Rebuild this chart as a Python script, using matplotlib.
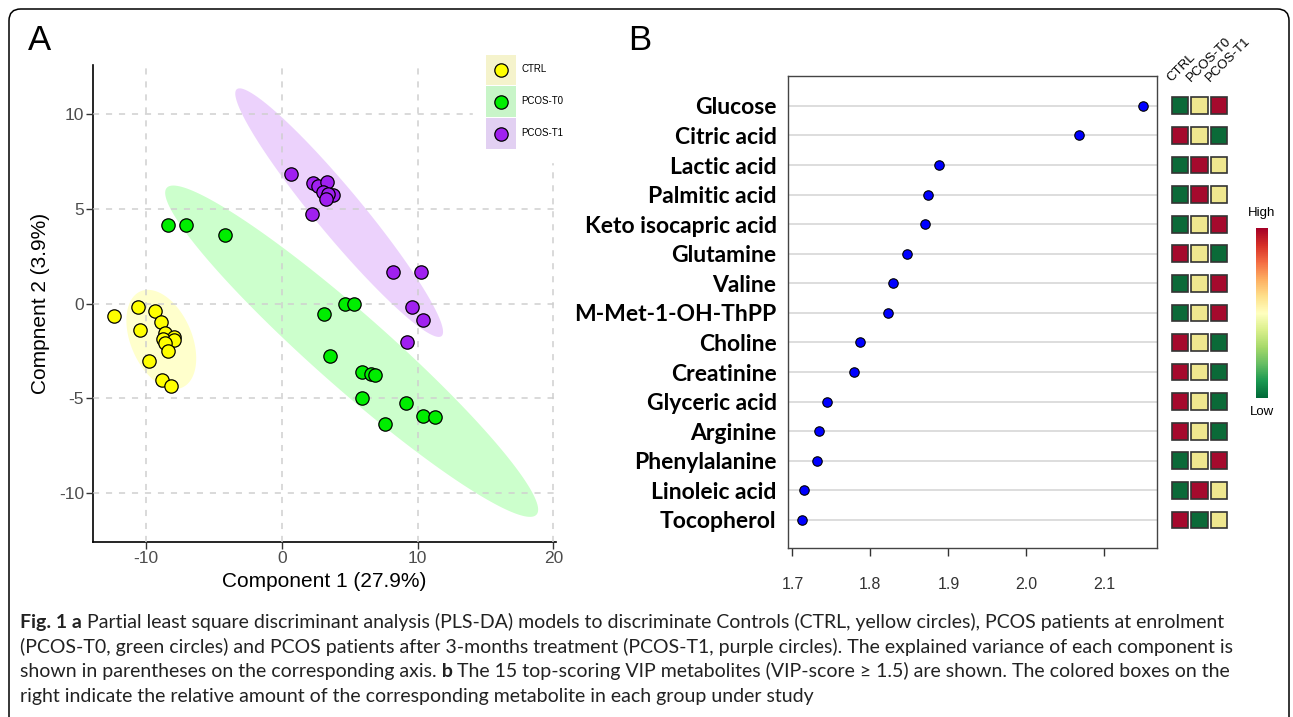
import numpy as np
import matplotlib
matplotlib.use("Agg")
from matplotlib import pyplot as plt
from matplotlib.patches import Rectangle, Patch, FancyBboxPatch
from matplotlib.lines import Line2D
from matplotlib.legend_handler import HandlerLine2D
from matplotlib.colors import ListedColormap, Normalize
from matplotlib.cm import ScalarMappable

plt.rcParams["font.family"] = ["Liberation Sans", "DejaVu Sans"]
plt.rcParams["axes.unicode_minus"] = False

# ---- panel A : PLS-DA scores ----
groups = ["CTRL", "PCOS-T0", "PCOS-T1"]
ctrl_x = [-12.38, -10.62, -9.37, -8.90, -10.47, -8.63, -7.92, -8.75, -7.94, -8.58, -8.38, -9.81, -8.80, -8.16]
ctrl_y = [-0.67, -0.18, -0.41, -0.99, -1.39, -1.55, -1.78, -1.87, -1.92, -2.08, -2.49, -3.05, -4.02, -4.37]
t0_x = [-8.41, -7.06, -4.15, 4.63, 5.34, 3.11, 3.53, 5.88, 6.57, 6.86, 5.88, 9.14, 10.37, 11.30, 7.62]
t0_y = [4.14, 4.14, 3.61, -0.04, 0.00, -0.53, -2.79, -3.60, -3.70, -3.77, -4.97, -5.24, -5.94, -6.01, -6.37]
t1_x = [0.66, 2.33, 2.69, 3.35, 3.06, 3.75, 3.38, 3.26, 2.20, 8.20, 10.24, 9.56, 10.37, 9.19]
t1_y = [6.83, 6.35, 6.21, 6.42, 5.89, 5.71, 5.78, 5.50, 4.74, 1.69, 1.66, -0.16, -0.85, -2.01]

# ellipses: centre, semi-axis vectors (data units)
ell_center = [(-8.87, -1.90), (5.15, -2.52), (4.23, 4.80)]
ell_major = [(-1.54, 2.54), (13.62, -8.63), (7.54, -6.52)]
ell_minor = [(2.06, 0.65), (1.78, 1.46), (1.30, 0.78)]

point_col = ["#ffff00", "#00ee00", "#a020f0"]
key_col = ["#f5f3cc", "#c8f5c8", "#e2d0f2"]

# ---- panel B : VIP scores ----
metabolites = ["Glucose", "Citric acid", "Lactic acid", "Palmitic acid", "Keto isocapric acid",
               "Glutamine", "Valine", "M-Met-1-OH-ThPP", "Choline", "Creatinine",
               "Glyceric acid", "Arginine", "Phenylalanine", "Linoleic acid", "Tocopherol"]
vip = [2.149, 2.067, 1.8885, 1.874, 1.870, 1.847, 1.8295, 1.823, 1.787, 1.779,
       1.7445, 1.734, 1.732, 1.7155, 1.712]
# relative amount per group (CTRL, PCOS-T0, PCOS-T1): 0 low, 1 mid, 2 high
levels = [[0, 1, 2], [2, 1, 0], [0, 2, 1], [0, 2, 1], [0, 1, 2],
          [2, 1, 0], [0, 1, 2], [0, 1, 2], [2, 1, 0], [2, 1, 0],
          [2, 1, 0], [2, 1, 0], [0, 1, 2], [0, 2, 1], [2, 0, 1]]


class CenteredMarker(HandlerLine2D):
    # put the legend marker in the middle of the key box
    def create_artists(self, legend, orig_handle, xdescent, ydescent, width, height, fontsize, trans):
        arts = super().create_artists(legend, orig_handle, xdescent, ydescent,
                                      width, height, fontsize, trans)
        for a in arts:
            a.set_ydata(np.full(len(a.get_xdata()), height / 2 - ydescent))
        return arts


fig = plt.figure(figsize=(12.93, 7.17), dpi=100)
W, H = 1293, 717

# outer rounded frame
fig.patches.append(FancyBboxPatch((9 / W, -0.05), 1280 / W, 1.05 - 9 / H,
                                  boxstyle="round,pad=0,rounding_size=0.009",
                                  mutation_aspect=W / H, transform=fig.transFigure,
                                  fc="none", ec="black", lw=1.1))

# ---------------- panel A ----------------
axA = fig.add_axes([93 / W, 1 - 542 / H, 463 / W, 477 / H])
t = np.linspace(0, 2 * np.pi, 200)
fill_alpha_col = ["#ffff00", "#00ff00", "#a020f0"]
for c, M, m, fc in zip(ell_center, ell_major, ell_minor, fill_alpha_col):
    ex = c[0] + np.cos(t) * M[0] + np.sin(t) * m[0]
    ey = c[1] + np.cos(t) * M[1] + np.sin(t) * m[1]
    axA.fill(ex, ey, color=fc, alpha=0.2, lw=0, zorder=1)

for xs, ys, col in zip([ctrl_x, t0_x, t1_x], [ctrl_y, t0_y, t1_y], point_col):
    axA.plot(xs, ys, "o", ms=9.6, mfc=col, mec="black", mew=0.9, zorder=3)

axA.set_xlim(-13.9, 20.2)
axA.set_ylim(-12.6, 12.6)
axA.set_xticks([-10, 0, 10, 20])
axA.set_yticks([-10, -5, 0, 5, 10])
axA.grid(True, color="#cfcfcf", lw=1.1, linestyle=(0, (4, 4.5)), zorder=2)
axA.set_axisbelow(False)
for s in ["top", "right"]:
    axA.spines[s].set_visible(False)
for s in ["left", "bottom"]:
    axA.spines[s].set_linewidth(1.2)
axA.tick_params(length=5, width=1, color="#333333", labelcolor="#4d4d4d",
                labelsize=12.5, pad=1.5)
axA.set_xlabel("Component 1 (27.9%)", fontsize=15)
axA.set_ylabel("Compnent 2 (3.9%)", fontsize=15)
axA.xaxis.set_label_coords(0.5, -0.062)
axA.yaxis.set_label_coords(-0.093, 0.5)

handles = [(Patch(fc=kc, ec="none"),
            Line2D([], [], ls="", marker="o", ms=9.6, mfc=pc, mec="black", mew=0.9))
           for kc, pc in zip(key_col, point_col)]
leg = axA.legend(handles, groups, loc="upper left", bbox_to_anchor=(468 / W, 1 - 37 / H),
                 bbox_transform=fig.transFigure, fontsize=7, handlelength=3.1,
                 handleheight=4.5, labelspacing=0.12, handletextpad=0.6,
                 borderpad=1.3, frameon=True, fancybox=False, framealpha=1,
                 handler_map={Line2D: CenteredMarker()})
leg.get_frame().set_edgecolor("white")
leg.set_zorder(5)

fig.text(40 / W, 1 - 41 / H, "A", fontsize=25, ha="center", va="center")
fig.text(640 / W, 1 - 41 / H, "B", fontsize=25, ha="center", va="center")

# ---------------- panel B ----------------
n = len(metabolites)
ypos = np.arange(n)[::-1]
axB = fig.add_axes([787.7 / W, 1 - 548.3 / H, 369 / W, 472.6 / H])
for yy in ypos:
    axB.axhline(yy, color="#d3d3d3", lw=1.1, zorder=1)
axB.plot(vip, ypos, "o", ms=6.8, mfc="#0000ff", mec="black", mew=0.8, zorder=3)
axB.set_xlim(1.694, 2.167)
axB.set_ylim(-0.96, 15.02)
axB.set_xticks([1.7, 1.8, 1.9, 2.0, 2.1])
axB.set_xticklabels(["1.7", "1.8", "1.9", "2.0", "2.1"])
axB.set_yticks(ypos)
axB.set_yticklabels(metabolites, fontsize=16.5, fontweight="bold", family=["Lato", "DejaVu Sans"])
axB.tick_params(axis="y", length=0, pad=8)
axB.tick_params(axis="x", length=6, width=1, color="#333333", labelcolor="#333333",
                labelsize=11.5, pad=15)
for s in axB.spines.values():
    s.set_color("#444444")
    s.set_linewidth(1.0)

# heatmap of relative amounts
axH = fig.add_axes([1170.25 / W, 1 - 548.3 / H, 58.5 / W, 472.6 / H])
box_cmap = ListedColormap(["#0b6a38", "#efe78f", "#a50a2d"])
for yy, row in zip(ypos, levels):
    for j, v in enumerate(row):
        axH.add_patch(Rectangle((j - 0.428, yy - 0.283), 0.856, 0.566,
                                fc=box_cmap(v), ec="#333333", lw=1.2))
axH.set_xlim(-0.5, 2.5)
axH.set_ylim(-0.96, 15.02)
axH.axis("off")
for j, g in enumerate(groups):
    axH.text(j - 0.35, 14.75, g, rotation=45, rotation_mode="anchor", ha="left",
             va="bottom", fontsize=9.5)

# colour scale
axC = fig.add_axes([1256 / W, 1 - 398.3 / H, 11.7 / W, 170 / H])
cb = fig.colorbar(ScalarMappable(norm=Normalize(0, 1), cmap="RdYlGn_r"), cax=axC)
cb.outline.set_visible(False)
cb.set_ticks([])
fig.text(1262 / W, 1 - 213 / H, "High", fontsize=9.5, ha="center", va="center")
fig.text(1262 / W, 1 - 412 / H, "Low", fontsize=9.5, ha="center", va="center")

# ---------------- caption ----------------
caption = [
    [("Fig. 1 a", True), (" Partial least square discriminant analysis (PLS-DA) models to discriminate Controls (CTRL, yellow circles), PCOS patients at enrolment", False)],
    [("(PCOS-T0, green circles) and PCOS patients after 3-months treatment (PCOS-T1, purple circles). The explained variance of each component is", False)],
    [("shown in parentheses on the corresponding axis.", False), (" b", True), (" The 15 top-scoring VIP metabolites (VIP-score ≥ 1.5) are shown. The colored boxes on the", False)],
    [("right indicate the relative amount of the corresponding metabolite in each group under study", False)],
]
baselines = [628, 652.7, 677.3, 702]
renderer = fig.canvas.get_renderer()
for line, yb in zip(caption, baselines):
    x = 20 / W
    for txt, bold in line:
        tx = fig.text(x, 1 - yb / H, txt, fontsize=14.0, color="#222222",
                      fontweight="bold" if bold else "normal",
                      family=["Lato", "DejaVu Sans"], va="baseline", ha="left")
        x += tx.get_window_extent(renderer=renderer).width / W

fig.savefig("out.png", dpi=100)
